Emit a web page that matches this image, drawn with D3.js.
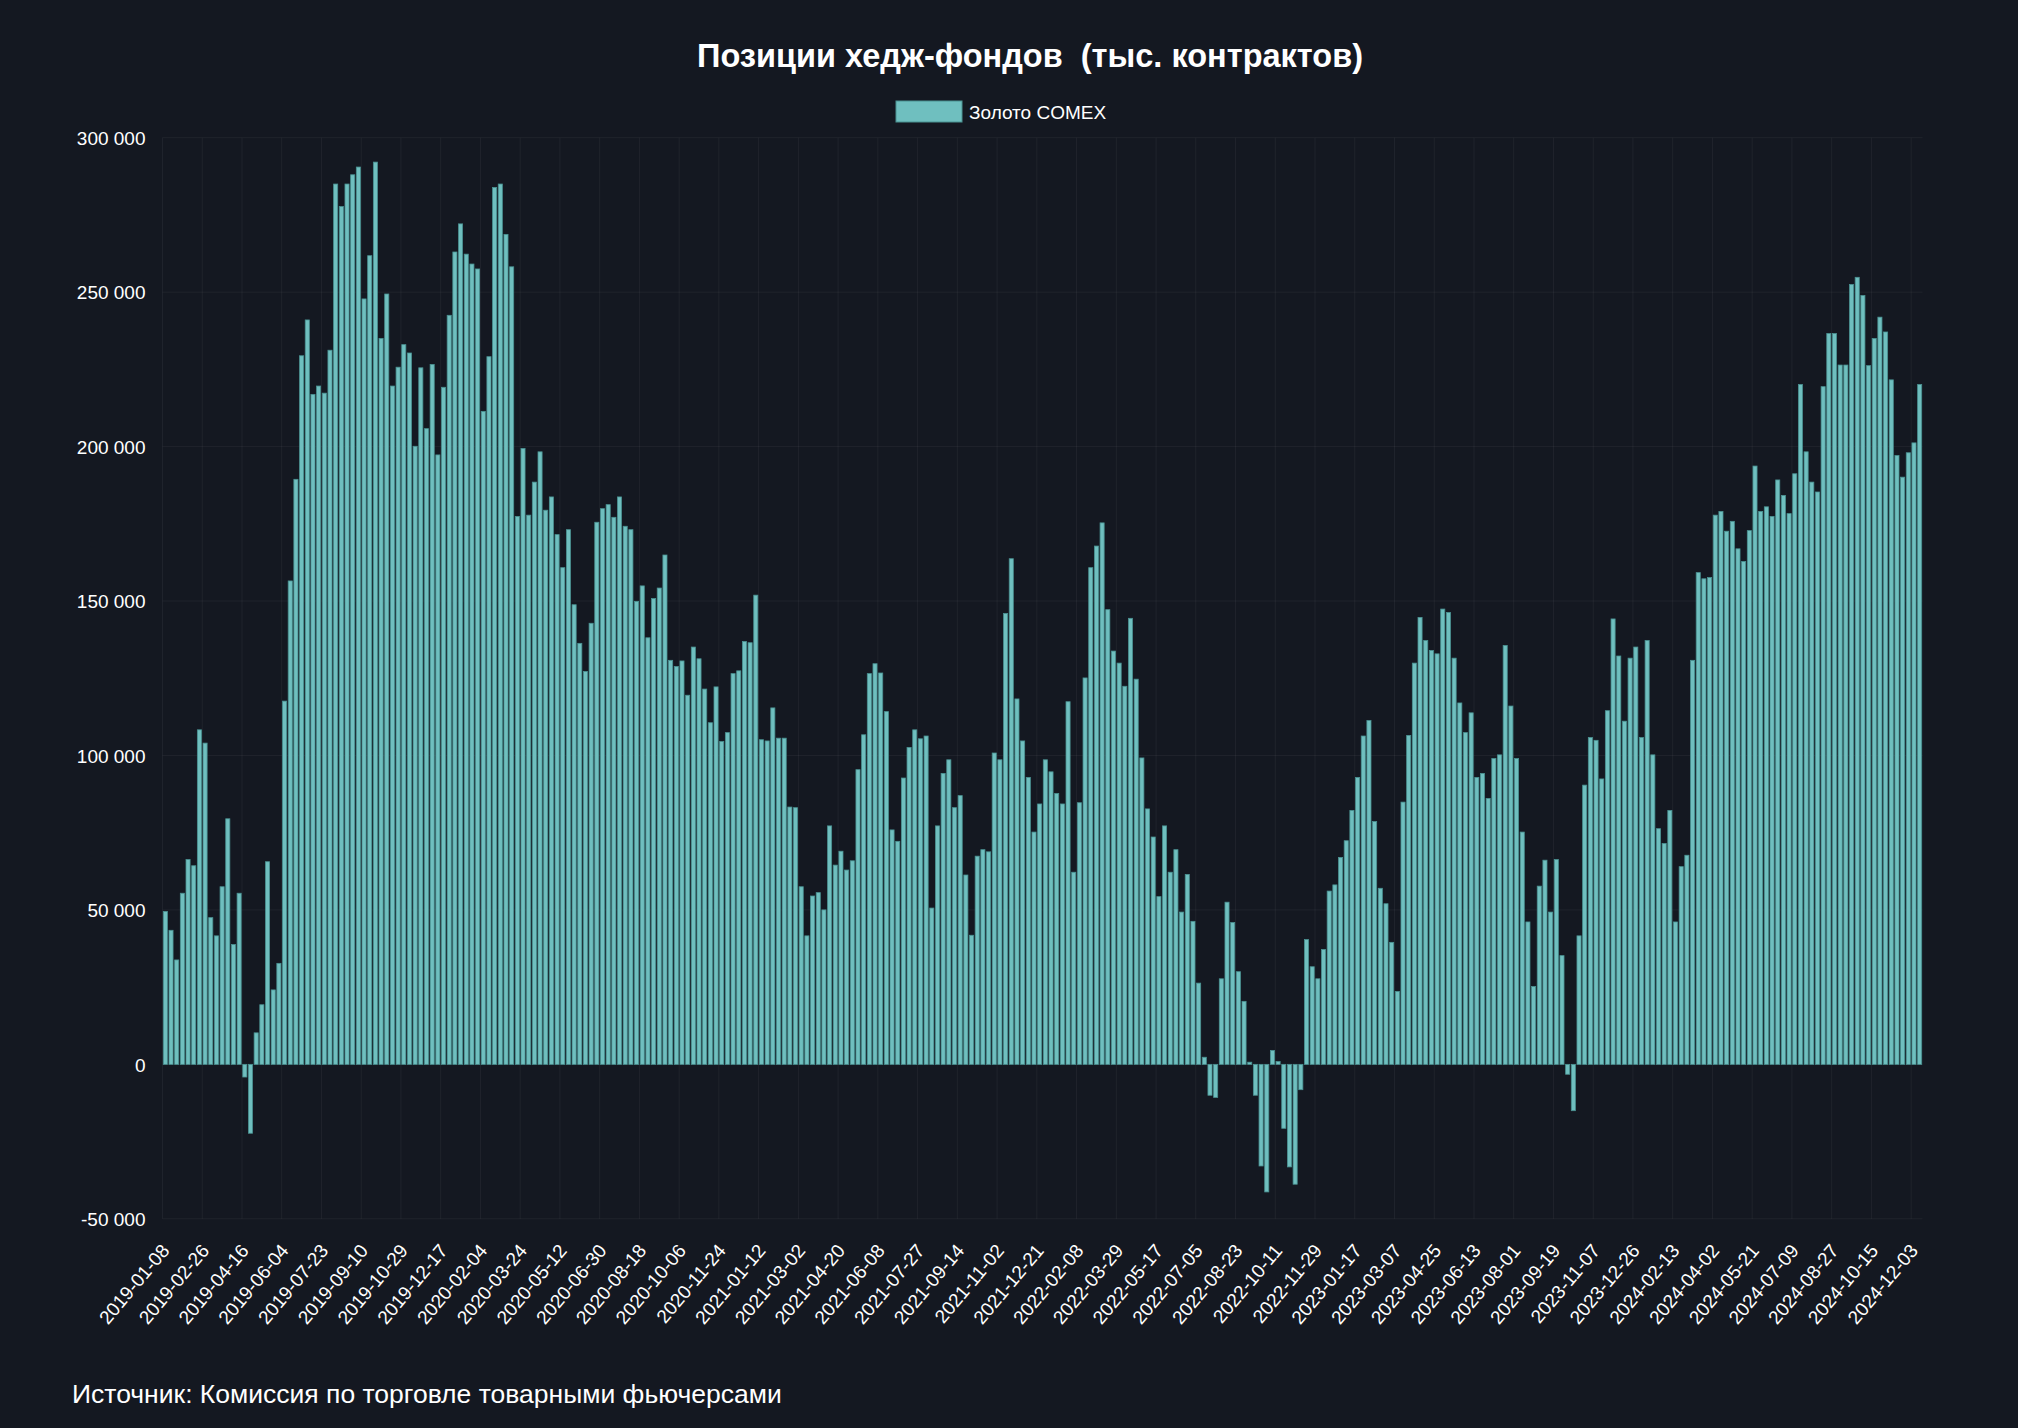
<!DOCTYPE html>
<html>
<head>
<meta charset="utf-8">
<script src="https://cdn.jsdelivr.net/npm/d3@7/dist/d3.min.js"></script>
<style>
  html, body { margin: 0; padding: 0; background: #141821; }
  svg { display: block; }
</style>
</head>
<body>
<svg id="chart" width="2018" height="1428"></svg>
<script>
// ---- Data ----
const title = "Позиции хедж-фондов  (тыс. контрактов)";
const seriesName = "Золото COMEX";
const source = "Источник: Комиссия по торговле товарными фьючерсами";
const startDate = "2019-01-08"; // weekly categories
const yTicks = [-50000, 0, 50000, 100000, 150000, 200000, 250000, 300000];
const xTickLabels = ["2019-01-08","2019-02-26","2019-04-16","2019-06-04","2019-07-23","2019-09-10","2019-10-29","2019-12-17","2020-02-04","2020-03-24","2020-05-12","2020-06-30","2020-08-18","2020-10-06","2020-11-24","2021-01-12","2021-03-02","2021-04-20","2021-06-08","2021-07-27","2021-09-14","2021-11-02","2021-12-21","2022-02-08","2022-03-29","2022-05-17","2022-07-05","2022-08-23","2022-10-11","2022-11-29","2023-01-17","2023-03-07","2023-04-25","2023-06-13","2023-08-01","2023-09-19","2023-11-07","2023-12-26","2024-02-13","2024-04-02","2024-05-21","2024-07-09","2024-08-27","2024-10-15","2024-12-03"];

const values2019 = [49500,43400,33800,55400,66300,64300,108300,104000,47500,41600,57500,79500,38800,55400,-4100,-22300,10200,19300,65600,24100,32700,117600,156500,189400,229400,241000,216900,219600,217300,231200,285000,
277700,285000,288000,290500,247800,261800,292100,235000,249400,219600,225700,233000,230300,200100,225500,205800,226600,197300,219200,242500,263000];
const values2020 = [272100,262300,259100,257500,211400,229100,283900,285000,268700,258200,
177400,199400,177800,188500,198300,179400,183700,171500,160800,173100,148800,136300,127200,142800,175500,179900,181200,177100,183700,174200,173100,149900,154900,138100,150800,154200,164900,130800,128800,130600,119500,
135100,131300];
const values2021 = [121500,110600,122200,104500,107400,126500,127400,136900,136500,151900,105100,104700,115400,105600,105600,83300,83100,57500,41600,54500,55600,50000,77200,64500,69000,62900,65900,95400,106700,
126500,129700,126700,114200,75900,72200,92700,102600,108300,105400,106300,50600,77200,94200,98600,83100,87000,61300,41800,67400,69500,68800,100800,98600,146000,163700,118300,104700];
const values2022 = [92900,75200,84300,98600,
94700,87700,84300,117400,62200,84700,125100,160800,167800,175300,147200,133800,129900,122400,144400,124700,99200,82700,73600,54300,77200,62200,69500,49300,61500,46300,26300,2300,-10000,-10700,27700,
52500,45900,30000,20400,700,-10000,-32900,-41300,4500,900,-20700,-33200,-38800,-8200];
const values2023 = [40400,31600,27700,37200,56100,58100,67000,72400,82200,92900,106300,111300,78600,57000,52000,39500,23600,
84900,106500,129900,144700,137200,134000,132900,147400,146300,131500,117000,107400,113800,92900,94200,86100,99000,100200,135600,116000,99000,75200,46100,25200,57700,66100,49300,66300,35200,-3200,-15000,
41600,90400,105800,104900,92400,114500,144200,132200,111100,131500];
const values2024 = [135100,105800,137200,100200,76300,71500,82200,46100,64000,67700,130800,159200,157200,157600,177800,179000,172600,175800,166900,162800,172800,
193700,179000,180500,177400,189200,184200,178300,191200,220100,198300,188500,185300,219400,236600,236600,226400,226400,252500,254800,248900,226200,235000,241900,237100,221600,197100,190100,198000,201200,220100];

const values = [].concat(values2019, values2020, values2021, values2022, values2023, values2024);
const parse = d3.timeParse("%Y-%m-%d"), fmtDate = d3.timeFormat("%Y-%m-%d");
const categories = values.map((v, i) => fmtDate(d3.timeDay.offset(parse(startDate), 7 * i)));
const data = categories.map((c, i) => ({ date: c, value: values[i] }));

// ---- Layout ----
const W = 2018, H = 1428;
const plot = { left: 162.5, right: 1922.5, top: 137.7, bottom: 1218.8 };
const colors = { bg: "#141821", grid: "rgba(255,255,255,0.05)", bar: "#6fbfbf", barStroke: "#4a9292", text: "#ffffff" };
const FONT = "'Liberation Sans', Arial, Helvetica, sans-serif";

const svg = d3.select("#chart");
svg.append("rect").attr("width", W).attr("height", H).attr("fill", colors.bg);

const x = d3.scaleBand().domain(categories).range([plot.left, plot.right]).padding(0);
const y = d3.scaleLinear().domain([-50000, 300000]).range([plot.bottom, plot.top]);
const locale = d3.formatLocale({ decimal: ",", thousands: " ", grouping: [3], currency: ["", ""], minus: "-" });
const fmt = locale.format(",d");

// grid
const grid = svg.append("g");
grid.selectAll("line.h").data(yTicks).join("line")
  .attr("x1", plot.left).attr("x2", plot.right)
  .attr("y1", d => y(d)).attr("y2", d => y(d))
  .attr("stroke", colors.grid).attr("stroke-width", 1);
grid.selectAll("line.v").data(xTickLabels).join("line")
  .attr("x1", d => x(d)).attr("x2", d => x(d))
  .attr("y1", plot.top).attr("y2", plot.bottom)
  .attr("stroke", colors.grid).attr("stroke-width", 1);

// bars
const bw = x.bandwidth() * 0.72;
svg.append("g").selectAll("rect").data(data).join("rect")
  .attr("x", d => x(d.date) + (x.bandwidth() - bw) / 2)
  .attr("width", bw)
  .attr("y", d => y(Math.max(0, d.value)))
  .attr("height", d => Math.abs(y(d.value) - y(0)))
  .attr("fill", colors.bar)
  .attr("stroke", colors.barStroke)
  .attr("stroke-width", 0.8);

// y axis labels
const yAxis = d3.axisLeft(y).tickValues(yTicks).tickFormat(fmt).tickSize(0).tickPadding(0);
const yg = svg.append("g").attr("transform", `translate(${plot.left - 17},0)`).call(yAxis);
yg.select(".domain").remove();
yg.selectAll("text").attr("fill", colors.text).attr("font-family", FONT).attr("font-size", 19).attr("dy", "0.35em");

// x axis labels
const xAxis = d3.axisBottom(x).tickValues(xTickLabels).tickSize(0).tickPadding(0);
const xg = svg.append("g").attr("transform", `translate(0,${plot.bottom + 28})`).call(xAxis);
xg.select(".domain").remove();
xg.selectAll("text")
  .attr("fill", colors.text).attr("font-family", FONT).attr("font-size", 19)
  .attr("text-anchor", "end").attr("y", 0).attr("dy", "0.35em")
  .attr("transform", "rotate(-50)");

// title
svg.append("text").attr("x", 1030).attr("y", 67).attr("text-anchor", "middle")
  .attr("fill", colors.text).attr("font-family", FONT)
  .attr("font-weight", "bold").attr("font-size", 32.5).style("white-space", "pre").text(title);

// legend
const lg = svg.append("g");
lg.append("rect").attr("x", 896).attr("y", 101).attr("width", 66).attr("height", 21)
  .attr("fill", colors.bar).attr("stroke", colors.barStroke).attr("stroke-width", 1);
lg.append("text").attr("x", 969).attr("y", 112).attr("dy", "0.35em")
  .attr("fill", colors.text).attr("font-family", FONT).attr("font-size", 19).text(seriesName);

// source
svg.append("text").attr("x", 72).attr("y", 1403)
  .attr("fill", colors.text).attr("font-family", FONT).attr("font-size", 26.5).text(source);
</script>
</body>
</html>
